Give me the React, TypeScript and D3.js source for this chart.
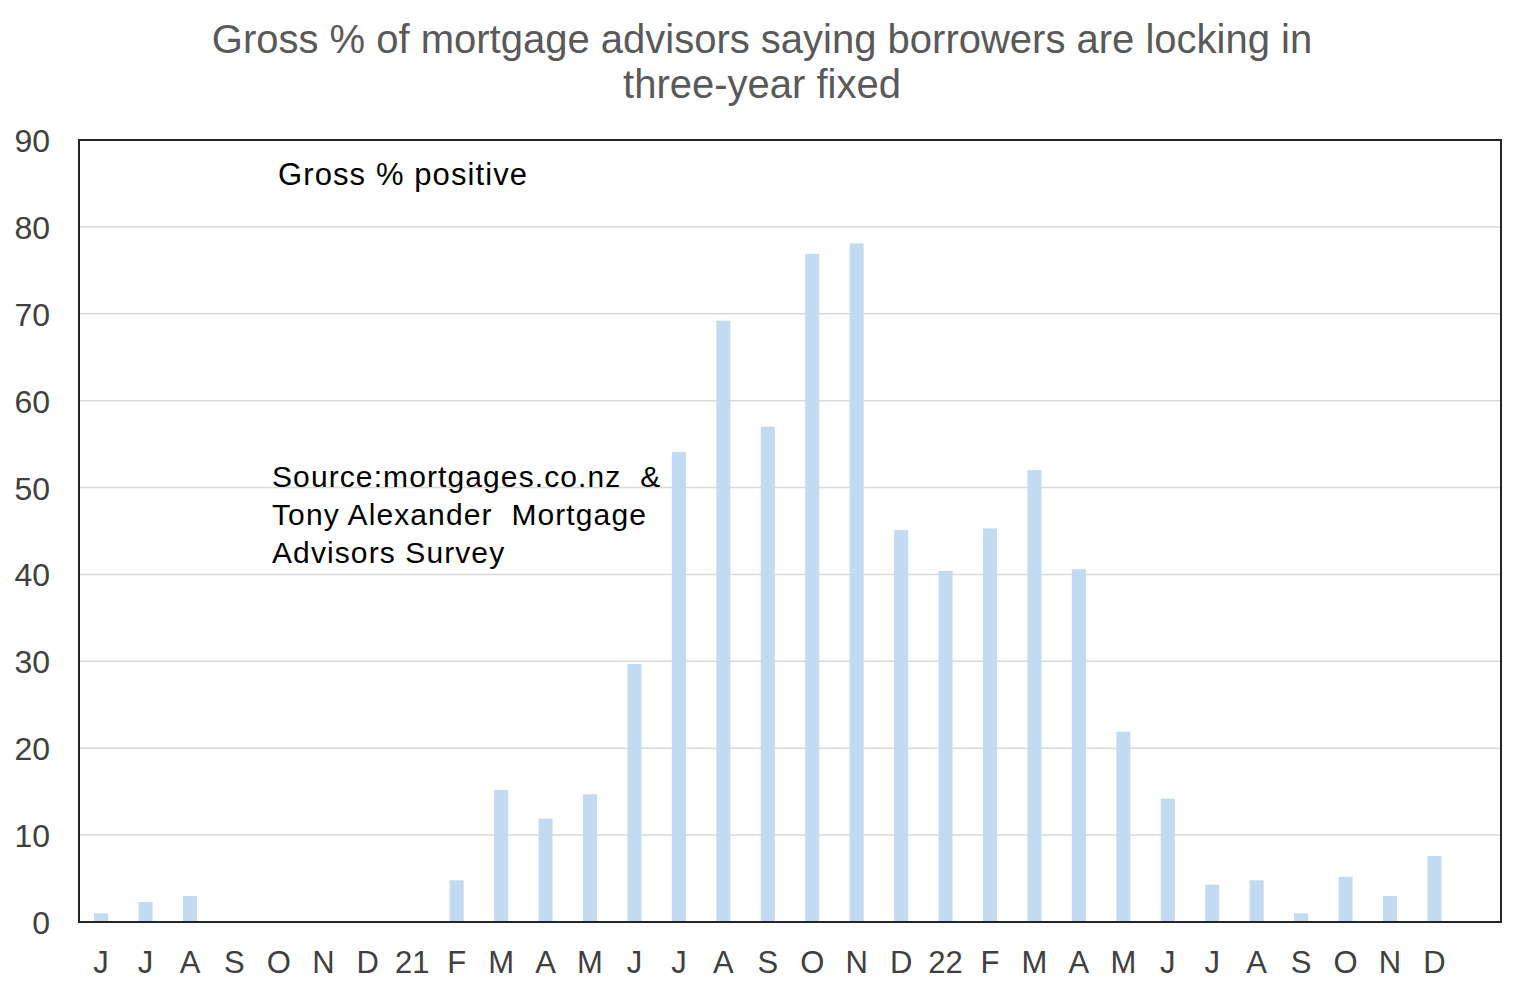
import * as d3 from 'd3';
import React, { useEffect, useRef } from 'react';

const months = ['J', 'J', 'A', 'S', 'O', 'N', 'D', '21', 'F', 'M', 'A', 'M', 'J', 'J', 'A', 'S', 'O', 'N', 'D', '22', 'F', 'M', 'A', 'M', 'J', 'J', 'A', 'S', 'O', 'N', 'D', ''];
const grossPositive = [1, 2.3, 3, 0, 0, 0, 0, 0, 4.8, 15.2, 11.9, 14.7, 29.7, 54.1, 69.2, 57, 76.9, 78.1, 45.1, 40.4, 45.3, 52, 40.6, 21.9, 14.2, 4.3, 4.8, 1, 5.2, 3, 7.6, 0];
const yTicks = [0, 10, 20, 30, 40, 50, 60, 70, 80, 90];
const titleLines = ['Gross % of mortgage advisors saying borrowers are locking in', 'three-year fixed'];
const sourceLines = ['Source:mortgages.co.nz  &', 'Tony Alexander  Mortgage', 'Advisors Survey'];

export default () => {
    const ref = useRef<any>();

    useEffect(() => {
        const width = 1525;
        const height = 995;
        const margin = { top: 140, right: 24, bottom: 73, left: 79 };
        const innerW = width - margin.left - margin.right;
        const innerH = height - margin.top - margin.bottom;
        const font = '"Liberation Sans", Arial, sans-serif';

        const svg = d3.select<any, any>(ref.current)
            .attr('width', width)
            .attr('height', height);
        svg.selectAll('*').remove();

        // title
        svg.append('g').selectAll('text').data(titleLines).join('text')
            .attr('x', 762)
            .attr('y', (d, i) => 53 + i * 45)
            .attr('text-anchor', 'middle')
            .attr('font-family', font)
            .attr('font-size', 40)
            .attr('fill', '#595959')
            .text((d) => d);

        const stage = svg.append('g')
            .attr('transform', `translate(${margin.left}, ${margin.top})`);

        const xScale = d3.scaleBand().domain(months.map((d, i) => String(i))).range([0, innerW]).paddingInner(0.685).paddingOuter(0.34);
        const yScale = d3.scaleLinear().domain([0, 90]).range([innerH, 0]);

        // gridlines
        stage.append('g').selectAll('line').data(yTicks.slice(1)).join('line')
            .attr('x1', 0).attr('x2', innerW)
            .attr('y1', (d) => yScale(d)).attr('y2', (d) => yScale(d))
            .attr('stroke', '#d9d9d9').attr('stroke-width', 1.5);

        // bars
        stage.append('g').selectAll('rect').data(grossPositive).join('rect')
            .attr('x', (d, i) => xScale(String(i)) as number)
            .attr('y', (d) => yScale(d))
            .attr('width', xScale.bandwidth())
            .attr('height', (d) => innerH - yScale(d))
            .attr('fill', '#c2dbf3');

        // frame
        stage.append('rect')
            .attr('x', 0).attr('y', 0)
            .attr('width', innerW).attr('height', innerH)
            .attr('fill', 'none').attr('stroke', '#262626').attr('stroke-width', 2);

        // y tick labels
        stage.append('g').selectAll('text').data(yTicks).join('text')
            .attr('x', -29)
            .attr('y', (d) => yScale(d) + 12)
            .attr('text-anchor', 'end')
            .attr('font-family', font)
            .attr('font-size', 32)
            .attr('fill', '#404040')
            .text((d) => d);

        // x tick labels
        stage.append('g').selectAll('text').data(months).join('text')
            .attr('x', (d, i) => (xScale(String(i)) as number) + xScale.bandwidth() / 2)
            .attr('y', innerH + 51)
            .attr('text-anchor', 'middle')
            .attr('font-family', font)
            .attr('font-size', 31)
            .attr('fill', '#404040')
            .text((d) => d);

        // annotations
        svg.append('text')
            .attr('x', 278).attr('y', 185)
            .attr('font-family', font).attr('font-size', 31).attr('fill', '#000')
            .attr('letter-spacing', 1.1)
            .text('Gross % positive');

        svg.append('g').selectAll('text').data(sourceLines).join('text')
            .attr('x', 272)
            .attr('y', (d, i) => 487 + i * 38)
            .attr('font-family', font).attr('font-size', 30).attr('fill', '#000')
            .attr('letter-spacing', 1.1)
            .style('white-space', 'pre')
            .text((d) => d);
    }, []);

    return (
        <svg ref={ref} style={{ position: 'absolute', left: 0, top: 0 }}></svg>
    );
};
